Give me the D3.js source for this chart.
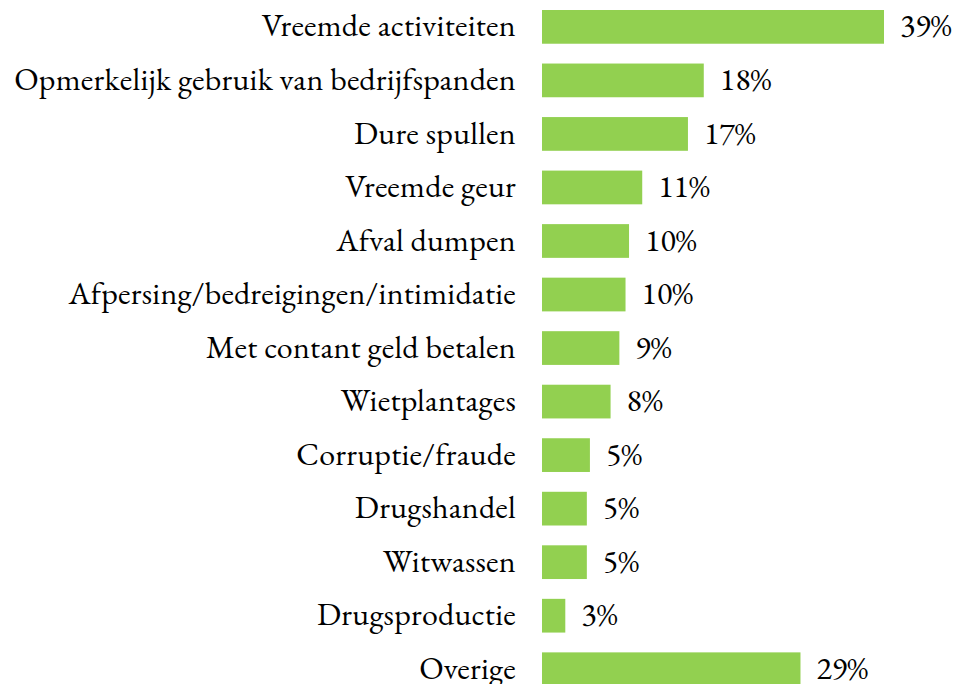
<!DOCTYPE html>
<html>
<head>
<meta charset="utf-8">
<script src="https://cdn.jsdelivr.net/npm/d3@7"></script>
</head>
<body style="margin:0; background:#fff">
<script>
// data
var categories = ["Vreemde activiteiten", "Opmerkelijk gebruik van bedrijfspanden", "Dure spullen",
    "Vreemde geur", "Afval dumpen", "Afpersing/bedreigingen/intimidatie", "Met contant geld betalen",
    "Wietplantages", "Corruptie/fraude", "Drugshandel", "Witwassen", "Drugsproductie", "Overige"];
var values = [38.9, 18.4, 16.6, 11.4, 9.9, 9.5, 8.8, 7.8, 5.45, 5.1, 5.1, 2.65, 29.4];
var valueLabels = ["39%", "18%", "17%", "11%", "10%", "10%", "9%", "8%", "5%", "5%", "5%", "3%", "29%"];

var w = 959, h = 684;
var left = 542;
var font = "'EB Garamond', 'Liberation Serif', serif";
var fontSize = "32px";

var svg = d3.select("body").append("svg")
    .attr("width", w)
    .attr("height", h);

var xScale = d3.scaleLinear()
    .domain([0, 38.9])
    .range([left, 884]);

var yScale = d3.scaleBand()
    .domain(categories)
    .range([0.1, 696])
    .paddingInner(0.37)
    .paddingOuter(0.185);

// bars
svg.selectAll("rect")
    .data(values)
    .enter()
    .append("rect")
    .attr("fill", "#92D050")
    .attr("x", xScale(0))
    .attr("y", function(d, i) { return yScale(categories[i]); })
    .attr("width", function(d) { return xScale(d) - xScale(0); })
    .attr("height", yScale.bandwidth());

// value labels
svg.selectAll(".val")
    .data(values)
    .enter()
    .append("text")
    .attr("class", "val")
    .attr("x", function(d) { return xScale(d) + 16; })
    .attr("y", function(d, i) { return yScale(categories[i]) + yScale.bandwidth() / 2; })
    .attr("dy", "0.3em")
    .style("font-family", font)
    .style("font-size", fontSize)
    .style("fill", "#000")
    .text(function(d, i) { return valueLabels[i]; });

// category axis (labels only)
var yAxis = d3.axisLeft(yScale).tickSize(0).tickPadding(0);
var gy = svg.append("g")
    .attr("transform", "translate(516,0)")
    .call(yAxis);
gy.select(".domain").remove();
gy.selectAll("text")
    .attr("dy", "0.3em")
    .style("font-family", font)
    .style("font-size", fontSize)
    .style("letter-spacing", "0.25px")
    .style("fill", "#000");
</script>
</body>
</html>
